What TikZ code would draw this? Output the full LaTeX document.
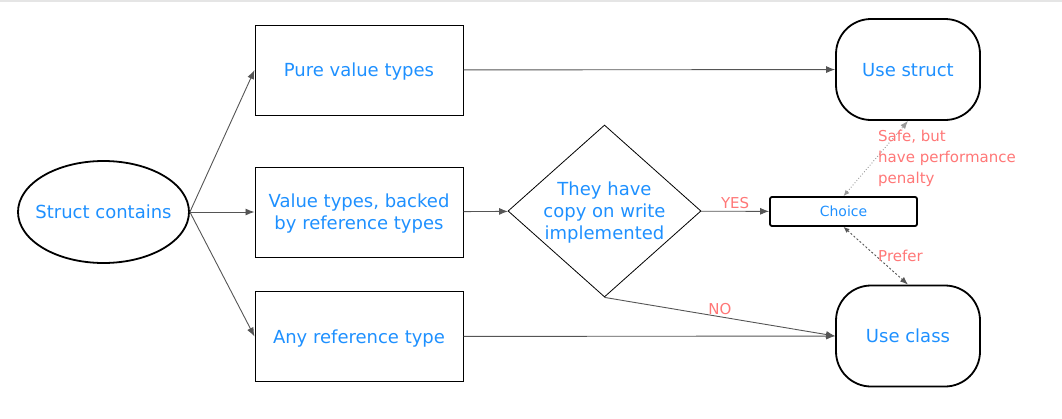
\documentclass[tikz,border=0pt]{standalone}
\usepackage{fontspec}
\setmainfont{DejaVu Sans}
\usetikzlibrary{arrows.meta,positioning,shapes.geometric}
\definecolor{txtblue}{RGB}{30,144,255}
\definecolor{lblred}{RGB}{255,119,119}
\definecolor{linegray}{RGB}{85,85,85}
\tikzset{
  every node/.style={font=\fontsize{18}{22}\selectfont,text=txtblue},
  start/.style={ellipse,draw,line width=1.8pt,minimum width=171pt,minimum height=102pt,inner xsep=-9pt,inner ysep=0pt,text depth=0pt},
  kind/.style={rectangle,draw,line width=1pt,minimum width=208pt,minimum height=90pt,align=center,text depth=0pt},
  test/.style={diamond,draw,line width=0.8pt,minimum width=193pt,minimum height=172pt,aspect=1.12,inner sep=0,align=center,text depth=0pt},
  choice box/.style={rectangle,draw,line width=1.8pt,rounded corners=2pt,minimum width=147pt,minimum height=29pt,font=\fontsize{14}{17}\selectfont},
  result/.style={rectangle,draw,line width=1.8pt,rounded corners=35pt,minimum width=144pt,minimum height=101pt,text depth=0pt},
  hint/.style={text=lblred,font=\fontsize{15}{21}\selectfont,inner sep=2pt},
  connect/.style={draw=linegray,line width=0.9pt,-{Latex[length=9pt,width=7pt]}},
  loose link/.style={draw=gray!80,dotted,line width=0.9pt,{Latex[length=6pt,width=5pt]}-{Latex[length=8pt,width=6pt]}},
  prefer link/.style={draw=linegray,dash pattern=on 2pt off 2pt,line width=0.9pt,{Latex[length=6pt,width=5pt]}-{Latex[length=8pt,width=6pt]}}
}
\begin{document}
\begin{tikzpicture}[x=1pt,y=-1pt]
    \useasboundingbox (0,0) rectangle (1062,418);
    \draw[gray!20,line width=1.5pt] (0,0.75) -- (1062,0.75);
    % Nodes
    \node[start]      (sc)      at (103.5,212) {Struct contains};
    \node[kind]       (pure)    at (359,70)    {Pure value types};
    \node[kind]       (backed)  at (359,212)   {Value types, backed\\by reference types};
    \node[kind]       (anyref)  at (359,336.5) {Any reference type};
    \node[test]       (cow)     at (604.5,211) {They have\\copy on write\\implemented};
    \node[choice box] (choice)  at (843.5,211.5) {Choice};
    \node[result]     (ustruct) at (908,69.5)  {Use struct};
    \node[result]     (uclass)  at (908,336)   {Use class};
    % Connections
    \foreach \b in {pure,backed,anyref} \draw[connect] (sc.east) -- (\b.west);
    \draw[connect] (pure) -- (ustruct);
    \draw[connect] (backed) -- (cow);
    \draw[connect] (anyref) -- (uclass);
    \draw[connect] (cow) -- node[hint,above] {YES} (choice);
    \draw[connect] (cow.south) -- node[hint,above] {NO} (uclass.west);
    % Choice links
    \draw[loose link] (choice.north) -- node[hint,anchor=west,align=left] {Safe, but\\have performance\\penalty} (ustruct.south);
    \draw[prefer link] (choice.south) -- node[hint,anchor=west] {Prefer} (uclass.north);
  \end{tikzpicture}
\end{document}
